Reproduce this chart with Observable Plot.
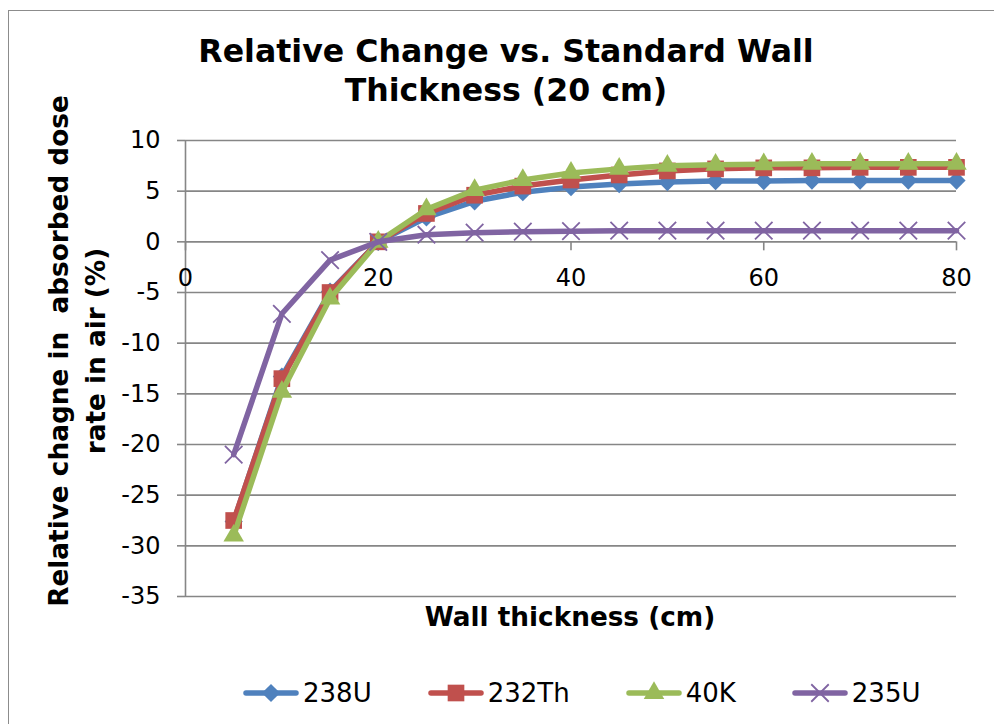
<!DOCTYPE html>
<html>
<head>
<meta charset="utf-8">
<script src="https://cdn.jsdelivr.net/npm/d3@7"></script>
<script src="https://cdn.jsdelivr.net/npm/@observablehq/plot@0.6"></script>
<style>
  html, body { margin: 0; padding: 0; background: #fff; }
  #wrap { position: relative; width: 994px; height: 724px; overflow: hidden; font-family: "DejaVu Sans", Verdana, sans-serif; }
  #frame { position: absolute; left: 8px; top: 10px; width: 1100px; height: 900px; border: 1.5px solid #8c8c8c; box-sizing: border-box; }
  #plot { position: absolute; left: 0; top: 0; }
  .title { position: absolute; left: 0; width: 1012px; text-align: center; font-weight: bold; font-size: 31.6px; color: #000; line-height: 39px; top: 32px; }
  .xlabel { position: absolute; left: 370px; width: 400px; text-align: center; top: 602px; font-weight: bold; font-size: 26.3px; }
  .ylabel { position: absolute; left: 78px; top: 351px; width: 640px; transform: translate(-50%, -50%) rotate(-90deg); text-align: center; font-weight: bold; font-size: 26.3px; line-height: 37px; white-space: pre; }
  .legend { position: absolute; top: 677px; left: 243px; display: flex; align-items: center; font-size: 26px; line-height: 32px; }
  .legend .item { display: flex; align-items: center; margin-right: 56px; }
  .legend svg { margin-right: 4px; }
</style>
</head>
<body>
<div id="wrap">
  <div id="frame"></div>
  <div id="plot"></div>
  <div class="title">Relative Change vs. Standard Wall<br>Thickness (20 cm)</div>
  <div class="xlabel">Wall thickness (cm)</div>
  <div class="ylabel">Relative chagne in  absorbed dose
rate in air (%)</div>
  <div class="legend" id="legend"></div>
</div>
<script>
const thickness = [5, 10, 15, 20, 25, 30, 35, 40, 45, 50, 55, 60, 65, 70, 75, 80];
const u238  = [-27.6, -13.3, -4.9, 0, 2.4, 4.0, 4.9, 5.4, 5.7, 5.9, 6.0, 6.0, 6.05, 6.05, 6.05, 6.05];
const th232 = [-27.5, -13.5, -5.0, 0, 2.8, 4.6, 5.5, 6.1, 6.6, 7.0, 7.2, 7.3, 7.3, 7.35, 7.35, 7.35];
const k40   = [-29.0, -14.8, -5.6, 0, 3.2, 5.1, 6.1, 6.8, 7.2, 7.5, 7.6, 7.65, 7.7, 7.7, 7.7, 7.7];
const u235  = [-21.0, -7.1, -1.8, 0, 0.7, 0.9, 1.0, 1.05, 1.1, 1.1, 1.1, 1.1, 1.1, 1.1, 1.1, 1.1];

const seriesNames = ["238U", "232Th", "40K", "235U"];
const seriesValues = [u238, th232, k40, u235];
const seriesColors = ["#4F81BD", "#C0504D", "#9BBB59", "#8064A2"];
const seriesSymbols = ["diamond2", "square", "triangle", "times"];
const seriesR = [8.2, 9.4, 7.6, 8.0];

const xTicks = [0, 20, 40, 60, 80];
const yTicks = [-35, -30, -25, -20, -15, -10, -5, 0, 5, 10];

const gridColor = "#868686";

const marks = [
  Plot.ruleY(yTicks, {stroke: gridColor, strokeWidth: 1.6}),
  Plot.ruleX([0], {stroke: gridColor, strokeWidth: 1.6}),
  Plot.axisY({ticks: yTicks, tickSize: 8, tickPadding: 17, fontSize: 24, stroke: gridColor, strokeWidth: 1.6, label: null, fill: "#000", tickFormat: d => String(d)}),
  Plot.ruleX(xTicks, {x: d => d, y1: 0, y2: 0, insetBottom: -9, stroke: gridColor, strokeWidth: 1.6}),
  Plot.text(xTicks, {x: d => d, y: 0, dy: 36, text: d => String(d), fontSize: 24, fill: "#000"})
];

seriesValues.forEach((vals, i) => {
  const data = thickness.map((t, j) => ({t, v: vals[j]}));
  marks.push(Plot.line(data, {x: "t", y: "v", stroke: seriesColors[i], strokeWidth: 5.5, strokeLinejoin: "round", strokeLinecap: "round"}));
  if (seriesSymbols[i] === "times") {
    marks.push(Plot.dot(data, {x: "t", y: "v", symbol: "times", r: seriesR[i], stroke: seriesColors[i], strokeWidth: 1.8}));
  } else {
    marks.push(Plot.dot(data, {x: "t", y: "v", symbol: seriesSymbols[i], r: seriesR[i], fill: seriesColors[i], stroke: "none"}));
  }
});

const chart = Plot.plot({
  width: 994,
  height: 724,
  marginLeft: 185,
  marginRight: 38,
  marginTop: 140,
  marginBottom: 128,
  style: {fontFamily: "'DejaVu Sans', Verdana, sans-serif", background: "transparent", color: "#000"},
  x: {domain: [0, 80], axis: null},
  y: {domain: [-35, 10], axis: null},
  marks
});
document.getElementById("plot").appendChild(chart);

// legend
const legend = document.getElementById("legend");
seriesNames.forEach((name, i) => {
  const item = document.createElement("div");
  item.className = "item";
  const w = 56, h = 26;
  const sym = {diamond2: d3.symbolDiamond2, square: d3.symbolSquare, triangle: d3.symbolTriangle, times: d3.symbolTimes}[seriesSymbols[i]];
  const path = d3.symbol(sym, seriesR[i] * seriesR[i] * Math.PI)();
  const isStroke = seriesSymbols[i] === "times";
  item.innerHTML = `<svg width="${w}" height="${h}"><line x1="3" x2="${w - 3}" y1="${h / 2}" y2="${h / 2}" stroke="${seriesColors[i]}" stroke-width="5.5" stroke-linecap="round"/><path transform="translate(${w / 2},${h / 2})" d="${path}" ${isStroke ? `fill="none" stroke="${seriesColors[i]}" stroke-width="1.8"` : `fill="${seriesColors[i]}"`}/></svg><span>${name}</span>`;
  legend.appendChild(item);
});
</script>
</body>
</html>
